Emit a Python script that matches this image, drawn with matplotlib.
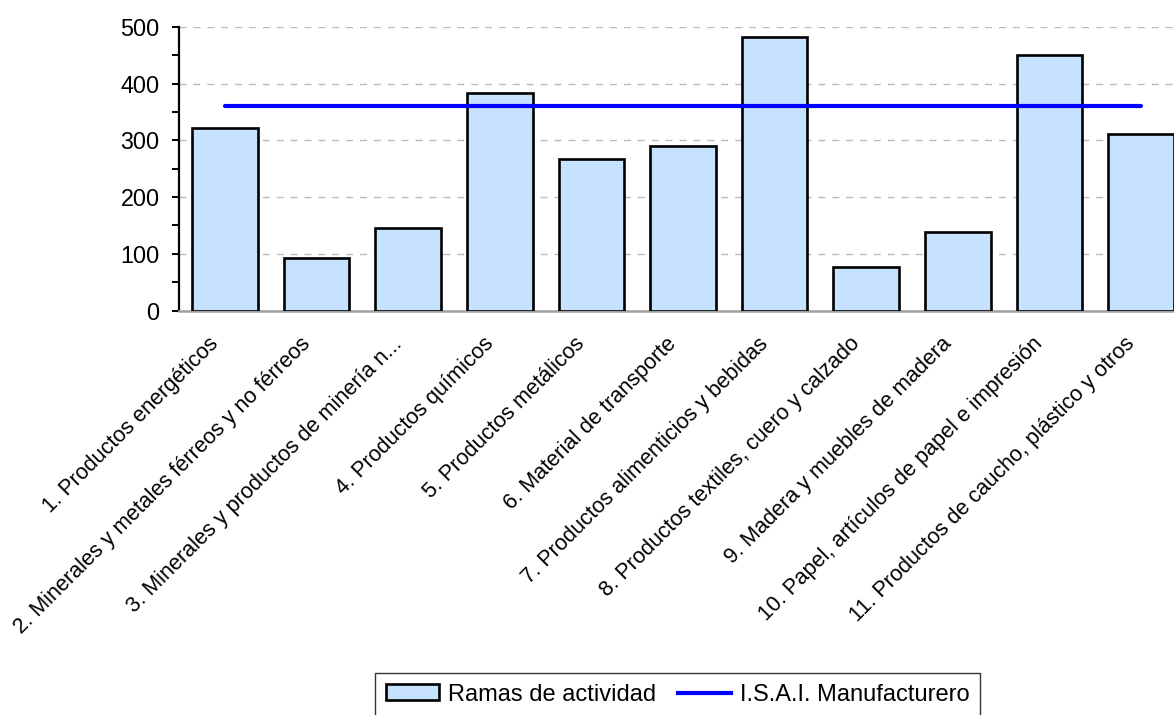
import matplotlib
matplotlib.use("Agg")
import matplotlib.pyplot as plt
from matplotlib.ticker import MultipleLocator
from matplotlib.patches import Patch
from matplotlib.lines import Line2D
from matplotlib.transforms import ScaledTranslation

categories = [
    "1. Productos energéticos",
    "2. Minerales y metales férreos y no férreos",
    "3. Minerales y productos de minería n...",
    "4. Productos químicos",
    "5. Productos metálicos",
    "6. Material de transporte",
    "7. Productos alimenticios y bebidas",
    "8. Productos textiles, cuero y calzado",
    "9. Madera y muebles de madera",
    "10. Papel, artículos de papel e impresión",
    "11. Productos de caucho, plástico y otros",
]
ramas = [322, 92, 145, 383, 268, 290, 482, 76, 139, 451, 311]
isai = [361] * len(categories)
series_names = ["Ramas de actividad", "I.S.A.I. Manufacturero"]

plt.rcParams['font.family'] = ['Liberation Sans', 'DejaVu Sans']

W, H = 1174, 715
fig = plt.figure(figsize=(W / 100, H / 100), dpi=100)
left_px, right_px = 179, 1187
bot_px, top_px = 310.5, 27
ax = fig.add_axes([left_px / W, 1 - bot_px / H, (right_px - left_px) / W, (bot_px - top_px) / H])

x = list(range(len(categories)))
bar_color = "#C6E2FF"
ax.bar(x, ramas, width=0.716, color=bar_color, edgecolor="black", linewidth=1.9, zorder=3)
ax.plot(x, isai, color="#0000FF", linewidth=3.0, solid_capstyle="round", zorder=4)

ax.set_xlim(-0.5, len(categories) - 0.5)
ax.set_ylim(0, 500)
ax.yaxis.set_major_locator(MultipleLocator(100))
ax.yaxis.set_minor_locator(MultipleLocator(50))
ax.grid(axis="y", which="major", color="#BBBBBB", linestyle=(0, (5, 5)), linewidth=1.0, zorder=0)
ax.set_axisbelow(True)

for s in ["top", "right"]:
    ax.spines[s].set_visible(False)
ax.spines["left"].set_linewidth(1.6)
ax.spines["left"].set_color("black")
ax.spines["bottom"].set_linewidth(1.8)
ax.spines["bottom"].set_color("#A0A0A0")

ax.tick_params(axis="y", which="both", direction="out", length=5, width=1.4, labelsize=16.8, pad=9)
ax.tick_params(axis="x", length=0, pad=10)
ax.set_xticks(x)
ax.set_xticklabels(categories, rotation=45, ha="right", rotation_mode="anchor", fontsize=15.6)
offset = ScaledTranslation(-17 / 100, -9 / 100, fig.dpi_scale_trans)
for lab in ax.get_xticklabels():
    lab.set_transform(lab.get_transform() + offset)

handles = [
    Patch(facecolor=bar_color, edgecolor="black", linewidth=1.9),
    Line2D([0], [0], color="#0000FF", linewidth=3.0),
]
leg = fig.legend(handles, series_names, loc="upper left", bbox_to_anchor=(375 / W, 1 - 673 / H),
                 bbox_transform=fig.transFigure, ncol=2, fontsize=17, frameon=True, fancybox=False,
                 borderaxespad=0, handlelength=2.25, handleheight=0.65, handletextpad=0.4,
                 columnspacing=0.9, borderpad=0.45)
leg.get_frame().set_edgecolor("black")
leg.get_frame().set_linewidth(1.0)

fig.savefig("out.png", dpi=100)
